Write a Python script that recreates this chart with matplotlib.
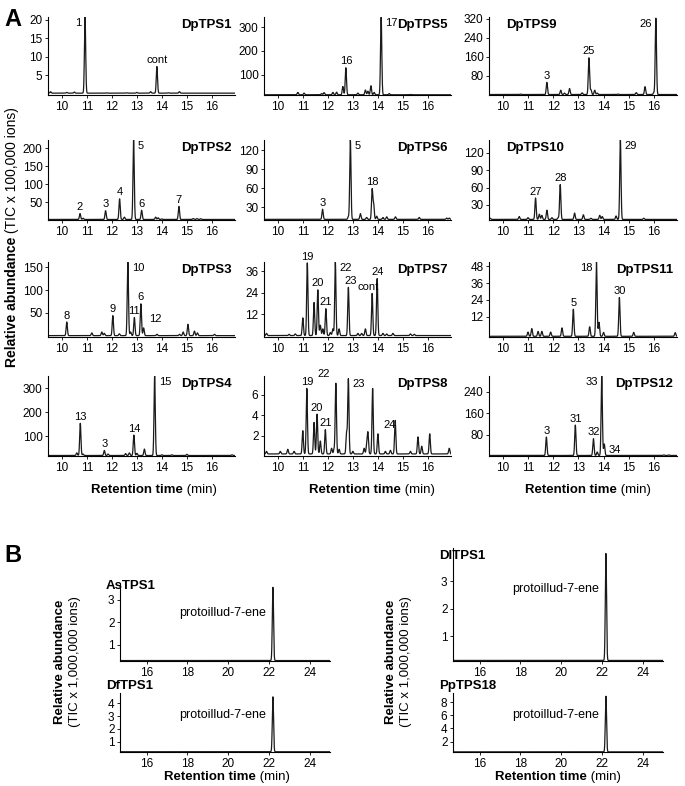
import numpy as np
import matplotlib
matplotlib.use('Agg')
import matplotlib.pyplot as plt

plt.rcParams['font.family'] = ['Liberation Sans', 'DejaVu Sans']

W, H = 685, 786

# ---- panel A data: peak retention times (min) and apex heights (TIC x 100,000)
tps1_rt = [9.55, 10.2, 10.5, 10.93, 11.8, 12.6, 13.0, 13.55, 13.8, 14.25, 14.7]
tps1_h = [0.6, 0.4, 0.5, 20.8, 0.3, 0.3, 0.4, 0.6, 7.4, 0.3, 0.6]
tps1_lab = [(10.93, '1', 'l'), (13.8, 'cont', 'a')]

tps5_rt = [10.8, 11.05, 11.75, 11.85, 12.2, 12.35, 12.6, 12.72, 13.2, 13.5, 13.6, 13.72, 13.85, 14.13, 14.45, 15.3]
tps5_h = [25, 22, 20, 24, 25, 26, 50, 129, 22, 35, 30, 53, 25, 343, 20, 16]
tps5_lab = [(12.72, '16', 'a'), (14.13, '17', 'r')]

tps9_rt = [10.7, 11.75, 12.3, 12.45, 12.65, 13.15, 13.42, 13.5, 13.65, 13.75, 14.57, 15.3, 15.65, 16.0, 16.08]
tps9_h = [4, 53, 20, 8, 27, 9, 156, 22, 20, 8, 4, 10, 35, 10, 322]
tps9_lab = [(11.75, '3', 'a'), (13.42, '25', 'a'), (16.08, '26', 'l')]

tps2_rt = [10.73, 10.85, 11.75, 12.31, 12.5, 12.87, 13.19, 13.75, 13.85, 14.0, 14.68, 15.25, 15.4, 15.55]
tps2_h = [18, 5, 26, 59, 8, 223, 27, 8, 6, 3, 38, 4, 4, 3.5]
tps2_lab = [(10.73, '2', 'a'), (11.75, '3', 'a'), (12.31, '4', 'a'), (12.87, '5', 'r'),
            (13.19, '6', 'a'), (14.68, '7', 'a')]

tps6_rt = [11.79, 12.82, 12.9, 13.3, 13.55, 13.77, 13.83, 13.95, 14.2, 14.35, 14.7, 15.65, 16.75, 16.85]
tps6_h = [27, 15, 136, 20, 14, 58, 35, 16, 14, 15, 15, 14, 13, 13]
tps6_lab = [(11.79, '3', 'a'), (12.9, '5', 'r'), (13.77, '18', 'a')]

tps10_rt = [9.5, 10.65, 11.0, 11.3, 11.45, 11.55, 11.75, 11.95, 12.2, 12.28, 12.85, 13.2, 13.5, 13.85, 13.95, 14.5, 14.67, 15.6]
tps10_h = [7, 10, 8, 42, 14, 12, 21, 8, 8, 65, 16, 13, 7, 12, 10, 11, 142, 7]
tps10_lab = [(11.3, '27', 'a'), (12.28, '28', 'a'), (14.67, '29', 'r')]

tps3_rt = [10.2, 11.2, 11.6, 11.7, 12.04, 12.3, 12.64, 12.75, 12.9, 13.16, 13.27, 13.8, 14.7, 14.85, 15.04, 15.3, 15.42, 16.1]
tps3_h = [30, 6, 8, 5, 44, 4, 162, 8, 40, 70, 17, 3, 3, 8, 25, 10, 6, 3]
tps3_lab = [(10.2, '8', 'a'), (12.04, '9', 'a'), (12.64, '10', 'r'), (12.9, '11', 'a'),
            (13.16, '6', 'a'), (13.27, '12', 'ar')]

tps7_rt = [9.55, 10.45, 10.7, 11.0, 11.18, 11.45, 11.6, 11.7, 11.8, 11.92, 12.1, 12.2, 12.3, 12.45,
           12.82, 13.2, 13.35, 13.5, 13.77, 13.97, 14.2, 14.35, 14.6, 15.3, 15.45]
tps7_h = [1.5, 1, 1.2, 10.1, 40.5, 18.6, 25.6, 6, 4, 15.2, 2, 4, 41, 4,
          27, 1.5, 1.5, 4, 23.6, 31.8, 1.5, 1.2, 1.5, 1.2, 1]
tps7_lab = [(11.18, '19', 'a'), (11.6, '20', 'a'), (11.92, '21', 'a'), (12.3, '22', 'r'),
            (12.82, '23', 'a+'), (13.77, 'cont', 'a-'), (13.97, '24', 'a')]

tps11_rt = [11.0, 11.15, 11.4, 11.55, 11.9, 12.35, 12.8, 13.45, 13.72, 13.82, 14.0, 14.63, 15.2, 16.85]
tps11_h = [1, 3.5, 1.5, 1.5, 1, 4, 17.3, 4.8, 51, 8, 0.8, 25.7, 0.8, 0.6]
tps11_lab = [(12.8, '5', 'a'), (13.72, '18', 'l'), (14.63, '30', 'a')]

tps4_rt = [10.6, 10.74, 10.85, 11.7, 11.85, 12.55, 12.7, 12.88, 13.0, 13.3, 13.71, 14.0, 14.4, 15.0, 16.8]
tps4_h = [30, 153, 25, 40, 25, 27, 30, 104, 28, 46, 350, 22, 22, 24, 22]
tps4_lab = [(10.74, '13', 'a'), (11.7, '3', 'a'), (12.88, '14', 'a'), (13.71, '15', 'r')]

tps8_rt = [9.55, 10.1, 10.4, 10.65, 11.0, 11.16, 11.45, 11.57, 11.7, 11.9, 12.15, 12.25, 12.32, 12.45,
           12.75, 12.82, 13.0, 13.45, 13.55, 13.6, 13.79, 14.0, 14.3, 14.5, 14.69, 15.3, 15.6, 15.75,
           16.07, 16.85]
tps8_h = [0.5, 0.5, 0.7, 0.5, 2.5, 6.6, 3.3, 4.1, 1.5, 2.6, 0.8, 0.7, 7.1, 0.7,
          2.3, 7.5, 0.5, 0.8, 1.0, 2.3, 6.6, 2.2, 0.5, 0.6, 3.5, 0.5, 1.9, 1.0,
          2.2, 0.8]
tps8_lab = [(11.16, '19', 'a'), (11.57, '20', 'a'), (11.9, '21', 'a'), (12.32, '22', 'al'),
            (12.82, '23', 'r'), (14.0, '24', 'ar')]

tps12_rt = [11.73, 12.88, 13.6, 13.75, 13.93, 14.03, 16.4, 16.6]
tps12_h = [71, 116, 65, 15, 300, 45, 4, 4]
tps12_lab = [(11.73, '3', 'a'), (12.88, '31', 'a'), (13.6, '32', 'a'), (13.93, '33', 'l'),
             (14.03, '34', 'r')]

# ---- panel B data (TIC x 1,000,000)
b_names = ['AsTPS1', 'DfTPS1', 'DlTPS1', 'PpTPS18']
b_rt = [22.2, 22.2, 22.2, 22.2]
b_h = [3.55, 4.5, 4.0, 8.9]
b_yticks = [[1, 2, 3], [1, 2, 3, 4], [1, 2, 3], [2, 4, 6, 8]]
b_compound = 'protoillud-7-ene'

fig = plt.figure(figsize=(W / 100, H / 100), dpi=100)


def px_axes(l, t, r, b):
    return fig.add_axes([l / W, 1 - b / H, (r - l) / W, (b - t) / H])


def style(ax):
    for s in ['top', 'right']:
        ax.spines[s].set_visible(False)
    for s in ['left', 'bottom']:
        ax.spines[s].set_linewidth(0.8)
    ax.tick_params(length=2, width=0.6, pad=2, labelsize=8.5)


def trace(x, rts, hts, base, sig):
    y = np.full_like(x, base)
    for r, h in zip(rts, hts):
        y += (h - base) * np.exp(-0.5 * ((x - r) / sig) ** 2)
    return y


offsets = {'a': (0, 1, 'center', 'bottom'),
           'a+': (2, 1, 'center', 'bottom'),
           'a-': (-3, 1, 'center', 'bottom'),
           'r': (3, -4, 'left', 'center'),
           'l': (-3, -4, 'right', 'center'),
           'ar': (4, 3, 'left', 'bottom'),
           'al': (-4, 3, 'right', 'bottom')}

cols = [(48, 235), (264, 451), (489, 677)]
rows = [(17, 95), (140, 220), (262, 337), (376, 456)]

panels = [
    ('DpTPS1', tps1_rt, tps1_h, tps1_lab, (-0.3, 20.8), [5, 10, 15, 20], 0.2, 'right'),
    ('DpTPS5', tps5_rt, tps5_h, tps5_lab, (14, 343), [100, 200, 300], 15, 'right'),
    ('DpTPS9', tps9_rt, tps9_h, tps9_lab, (0, 327), [80, 160, 240, 320], 2, 'left'),
    ('DpTPS2', tps2_rt, tps2_h, tps2_lab, (0, 223), [50, 100, 150, 200], 1.5, 'right'),
    ('DpTPS6', tps6_rt, tps6_h, tps6_lab, (10, 136), [30, 60, 90, 120], 11, 'right'),
    ('DpTPS10', tps10_rt, tps10_h, tps10_lab, (4, 142), [30, 60, 90, 120], 5, 'left'),
    ('DpTPS3', tps3_rt, tps3_h, tps3_lab, (-3, 162), [50, 100, 150], 0, 'right'),
    ('DpTPS7', tps7_rt, tps7_h, tps7_lab, (-0.5, 41), [12, 24, 36], 0.3, 'right'),
    ('DpTPS11', tps11_rt, tps11_h, tps11_lab, (-2.5, 51), [12, 24, 36, 48], -2.0, 'right'),
    ('DpTPS4', tps4_rt, tps4_h, tps4_lab, (17, 350), [100, 200, 300], 19, 'right'),
    ('DpTPS8', tps8_rt, tps8_h, tps8_lab, (0.05, 7.8), [2, 4, 6], 0.25, 'right'),
    ('DpTPS12', tps12_rt, tps12_h, tps12_lab, (0, 300), [80, 160, 240], 2, 'right'),
]

xa = np.linspace(9.45, 16.92, 4000)
for i, (name, rts, hts, labs, ylim, yt, base, side) in enumerate(panels):
    r, c = divmod(i, 3)
    ax = px_axes(cols[c][0], rows[r][0], cols[c][1], rows[r][1])
    y = trace(xa, rts, hts, base, 0.025)
    ax.plot(xa, y, color='#1a1a1a', lw=0.9)
    ax.set_xlim(9.45, 16.92)
    ax.set_ylim(*ylim)
    ax.set_xticks(range(10, 17))
    ax.set_yticks(yt)
    style(ax)
    if side == 'right':
        ax.text(0.98, 0.97, name, transform=ax.transAxes, ha='right', va='top',
                fontsize=9.5, fontweight='bold')
    else:
        ax.text(0.09, 0.97, name, transform=ax.transAxes, ha='left', va='top',
                fontsize=9.5, fontweight='bold')
    for rt, txt, pos in labs:
        top = min(y[np.abs(xa - rt) < 0.04].max(), ylim[1])
        dx, dy, ha, va = offsets[pos]
        ax.annotate(txt, (rt, top), xytext=(dx, dy), textcoords='offset points',
                    ha=ha, va=va, fontsize=8, annotation_clip=False)

# ---- panel B
b_axes = [(120, 584, 330, 661), (120, 693, 330, 752), (453, 548, 663, 661), (453, 693, 663, 752)]
b_ylims = [(0.27, 3.7), (0.2, 4.8), (0.1, 4.2), (0.4, 9.4)]
b_title_px = [(106, 586), (106, 686), (439, 556), (439, 686)]
xb = np.linspace(14.7, 25.0, 4000)
for i in range(4):
    ax = px_axes(*b_axes[i])
    y = trace(xb, [b_rt[i]], [b_h[i]], b_ylims[i][0] + 0.02, 0.03)
    ax.plot(xb, y, color='#1a1a1a', lw=0.9)
    ax.set_xlim(14.7, 25.0)
    ax.set_ylim(*b_ylims[i])
    ax.set_xticks([16, 18, 20, 22, 24])
    ax.set_yticks(b_yticks[i])
    style(ax)
    tx, ty = b_title_px[i]
    fig.text(tx / W, 1 - ty / H, b_names[i], ha='left', va='center',
             fontsize=9.5, fontweight='bold')
    ax.annotate(b_compound, (b_rt[i], b_h[i] * 0.68), xytext=(-5, 0), textcoords='offset points',
                ha='right', va='center', fontsize=9)

renderer = fig.canvas.get_renderer()


def two_part(xpx, ypx, bold, normal, size, rot=0):
    # bold + normal text, centred on (xpx, ypx) in pixel coords
    t1 = fig.text(0, 0, bold, fontsize=size, fontweight='bold', rotation=rot,
                  rotation_mode='anchor', ha='left', va='center')
    t2 = fig.text(0, 0, normal, fontsize=size, rotation=rot,
                  rotation_mode='anchor', ha='left', va='center')
    e1 = t1.get_window_extent(renderer)
    e2 = t2.get_window_extent(renderer)
    if rot == 0:
        total = e1.width + e2.width
        x0 = xpx - total / 2
        t1.set_position((x0 / W, 1 - ypx / H))
        t2.set_position(((x0 + e1.width) / W, 1 - ypx / H))
    else:
        total = e1.height + e2.height
        y0 = ypx + total / 2
        t1.set_position((xpx / W, 1 - y0 / H))
        t2.set_position((xpx / W, 1 - (y0 - e1.height) / H))


for cx in [154, 372, 588]:
    two_part(cx, 490, 'Retention time', ' (min)', 9.5)
for cx in [227, 558]:
    two_part(cx, 777, 'Retention time', ' (min)', 9.5)

two_part(12, 237, 'Relative abundance', ' (TIC x 100,000 ions)', 10, rot=90)

for lx in [60, 391]:
    fig.text(lx / W, 1 - 662 / H, 'Relative abundance', fontsize=9.5, fontweight='bold',
             rotation=90, ha='center', va='center')
    fig.text((lx + 15) / W, 1 - 662 / H, '(TIC x 1,000,000 ions)', fontsize=9.5,
             rotation=90, ha='center', va='center')

fig.text(4 / W, 1 - 20 / H, 'A', fontsize=17, fontweight='bold', ha='left', va='center')
fig.text(4 / W, 1 - 555 / H, 'B', fontsize=17, fontweight='bold', ha='left', va='center')

fig.savefig('out.png', dpi=100)
